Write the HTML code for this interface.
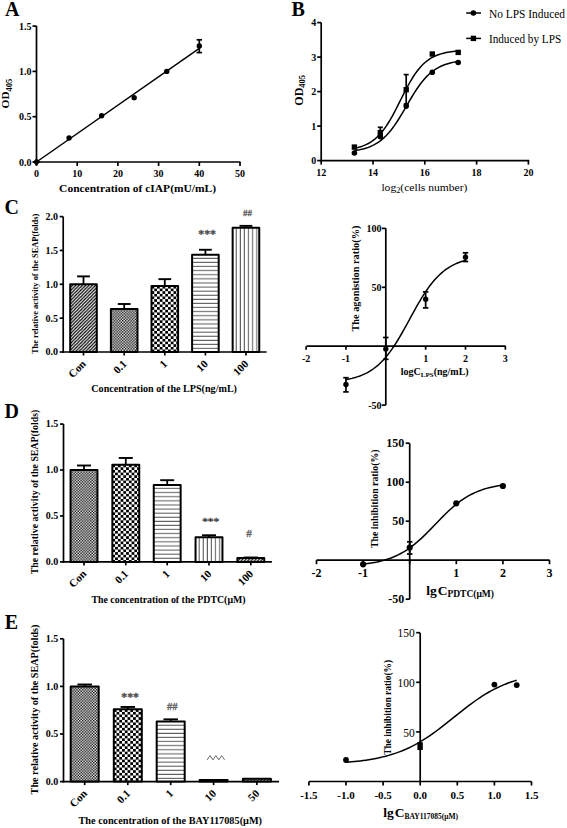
<!DOCTYPE html><html><head><meta charset="utf-8"><style>html,body{margin:0;padding:0;background:#fff;}svg{display:block;}text{font-family:"Liberation Serif",serif;}</style></head><body>
<svg width="567" height="828" viewBox="0 0 567 828">
<rect width="567" height="828" fill="#fff"/>
<text x="5" y="15.6" font-size="20" font-weight="bold" text-anchor="start" fill="#000">A</text>
<line x1="36.5" y1="26" x2="36.5" y2="162.85" stroke="#000" stroke-width="1.7"/>
<line x1="35.65" y1="162" x2="240.5" y2="162" stroke="#000" stroke-width="1.7"/>
<line x1="32.5" y1="162" x2="36.5" y2="162" stroke="#000" stroke-width="1.7"/>
<text x="31.5" y="165.6" font-size="10" font-weight="bold" text-anchor="end" fill="#000">0.0</text>
<line x1="32.5" y1="116.7" x2="36.5" y2="116.7" stroke="#000" stroke-width="1.7"/>
<text x="31.5" y="120.3" font-size="10" font-weight="bold" text-anchor="end" fill="#000">0.5</text>
<line x1="32.5" y1="71.4" x2="36.5" y2="71.4" stroke="#000" stroke-width="1.7"/>
<text x="31.5" y="75" font-size="10" font-weight="bold" text-anchor="end" fill="#000">1.0</text>
<line x1="32.5" y1="26.1" x2="36.5" y2="26.1" stroke="#000" stroke-width="1.7"/>
<text x="31.5" y="29.7" font-size="10" font-weight="bold" text-anchor="end" fill="#000">1.5</text>
<line x1="36.5" y1="162" x2="36.5" y2="166" stroke="#000" stroke-width="1.7"/>
<text x="36.5" y="176.9" font-size="10" font-weight="bold" text-anchor="middle" fill="#000">0</text>
<line x1="77.2" y1="162" x2="77.2" y2="166" stroke="#000" stroke-width="1.7"/>
<text x="77.2" y="176.9" font-size="10" font-weight="bold" text-anchor="middle" fill="#000">10</text>
<line x1="117.9" y1="162" x2="117.9" y2="166" stroke="#000" stroke-width="1.7"/>
<text x="117.9" y="176.9" font-size="10" font-weight="bold" text-anchor="middle" fill="#000">20</text>
<line x1="158.6" y1="162" x2="158.6" y2="166" stroke="#000" stroke-width="1.7"/>
<text x="158.6" y="176.9" font-size="10" font-weight="bold" text-anchor="middle" fill="#000">30</text>
<line x1="199.3" y1="162" x2="199.3" y2="166" stroke="#000" stroke-width="1.7"/>
<text x="199.3" y="176.9" font-size="10" font-weight="bold" text-anchor="middle" fill="#000">40</text>
<line x1="240" y1="162" x2="240" y2="166" stroke="#000" stroke-width="1.7"/>
<text x="240" y="176.9" font-size="10" font-weight="bold" text-anchor="middle" fill="#000">50</text>
<text x="137.6" y="191.8" font-size="11" font-weight="bold" text-anchor="middle" fill="#000" textLength="157" lengthAdjust="spacingAndGlyphs">Concentration of cIAP(mU/mL)</text>
<text transform="translate(9.4 108.4) rotate(-90)" font-size="11.3" font-weight="bold">OD<tspan font-size="8.5" dy="2.3">405</tspan></text>
<path d="M36.5 162 L199.3 48.3" fill="none" stroke="#000" stroke-width="1.5"/>
<path d="M32.9 162 L36.5 158.3 L40.1 162 L36.5 165.8 Z" fill="#000"/>
<circle cx="69.06" cy="137.99" r="2.7" fill="#000"/>
<circle cx="101.62" cy="115.79" r="2.7" fill="#000"/>
<circle cx="134.18" cy="97.67" r="2.7" fill="#000"/>
<circle cx="166.74" cy="71.4" r="2.7" fill="#000"/>
<circle cx="199.3" cy="46.03" r="2.7" fill="#000"/>
<line x1="199.3" y1="39.8" x2="199.3" y2="52.6" stroke="#000" stroke-width="1.7"/>
<line x1="196.55" y1="39.8" x2="202.05" y2="39.8" stroke="#000" stroke-width="1.7"/>
<line x1="196.55" y1="52.6" x2="202.05" y2="52.6" stroke="#000" stroke-width="1.7"/>
<text x="291.4" y="15.6" font-size="20" font-weight="bold" text-anchor="start" fill="#000">B</text>
<line x1="321.2" y1="22.6" x2="321.2" y2="161.45" stroke="#000" stroke-width="1.7"/>
<line x1="320.35" y1="160.6" x2="529.2" y2="160.6" stroke="#000" stroke-width="1.7"/>
<line x1="317.2" y1="160.6" x2="321.2" y2="160.6" stroke="#000" stroke-width="1.7"/>
<text x="316.3" y="164" font-size="10" font-weight="bold" text-anchor="end" fill="#000">0</text>
<line x1="317.2" y1="126.1" x2="321.2" y2="126.1" stroke="#000" stroke-width="1.7"/>
<text x="316.3" y="129.5" font-size="10" font-weight="bold" text-anchor="end" fill="#000">1</text>
<line x1="317.2" y1="91.6" x2="321.2" y2="91.6" stroke="#000" stroke-width="1.7"/>
<text x="316.3" y="95" font-size="10" font-weight="bold" text-anchor="end" fill="#000">2</text>
<line x1="317.2" y1="57.1" x2="321.2" y2="57.1" stroke="#000" stroke-width="1.7"/>
<text x="316.3" y="60.5" font-size="10" font-weight="bold" text-anchor="end" fill="#000">3</text>
<line x1="317.2" y1="22.6" x2="321.2" y2="22.6" stroke="#000" stroke-width="1.7"/>
<text x="316.3" y="26" font-size="10" font-weight="bold" text-anchor="end" fill="#000">4</text>
<line x1="321.2" y1="160.6" x2="321.2" y2="164.6" stroke="#000" stroke-width="1.7"/>
<text x="321.2" y="176.3" font-size="10" font-weight="bold" text-anchor="middle" fill="#000">12</text>
<line x1="373" y1="160.6" x2="373" y2="164.6" stroke="#000" stroke-width="1.7"/>
<text x="373" y="176.3" font-size="10" font-weight="bold" text-anchor="middle" fill="#000">14</text>
<line x1="424.8" y1="160.6" x2="424.8" y2="164.6" stroke="#000" stroke-width="1.7"/>
<text x="424.8" y="176.3" font-size="10" font-weight="bold" text-anchor="middle" fill="#000">16</text>
<line x1="476.6" y1="160.6" x2="476.6" y2="164.6" stroke="#000" stroke-width="1.7"/>
<text x="476.6" y="176.3" font-size="10" font-weight="bold" text-anchor="middle" fill="#000">18</text>
<line x1="528.4" y1="160.6" x2="528.4" y2="164.6" stroke="#000" stroke-width="1.7"/>
<text x="528.4" y="176.3" font-size="10" font-weight="bold" text-anchor="middle" fill="#000">20</text>
<text x="381.4" y="191.2" font-size="11.1" font-weight="normal" textLength="86" lengthAdjust="spacingAndGlyphs">log<tspan font-size="8" dy="2">2</tspan><tspan dy="-2">(cells number)</tspan></text>
<text transform="translate(302.6 105.7) rotate(-90)" font-size="12" font-weight="bold">OD<tspan font-size="8.5" dy="2.5">405</tspan></text>
<path d="M354.4 148.25 L356.13 147.88 L357.86 147.47 L359.59 147 L361.32 146.46 L363.05 145.85 L364.78 145.17 L366.51 144.39 L368.24 143.52 L369.97 142.53 L371.7 141.43 L373.43 140.19 L375.16 138.82 L376.89 137.29 L378.62 135.6 L380.35 133.74 L382.08 131.71 L383.81 129.49 L385.54 127.1 L387.27 124.52 L389 121.76 L390.73 118.84 L392.46 115.77 L394.19 112.57 L395.92 109.27 L397.65 105.88 L399.38 102.44 L401.11 98.98 L402.84 95.54 L404.57 92.14 L406.3 88.81 L408.03 85.59 L409.76 82.5 L411.49 79.55 L413.22 76.76 L414.95 74.15 L416.68 71.72 L418.41 69.47 L420.14 67.41 L421.87 65.52 L423.6 63.8 L425.33 62.24 L427.06 60.84 L428.79 59.58 L430.52 58.46 L432.25 57.45 L433.98 56.56 L435.71 55.77 L437.44 55.06 L439.17 54.44 L440.9 53.89 L442.63 53.41 L444.36 52.99 L446.09 52.61 L447.82 52.29 L449.55 52 L451.28 51.75 L453.01 51.53 L454.74 51.33 L456.47 51.16 L458.2 51.02" fill="none" stroke="#000" stroke-width="1.5"/>
<path d="M354.4 150.58 L356.13 150.32 L357.86 150.03 L359.59 149.71 L361.32 149.34 L363.05 148.92 L364.78 148.45 L366.51 147.93 L368.24 147.34 L369.97 146.68 L371.7 145.94 L373.43 145.11 L375.16 144.19 L376.89 143.17 L378.62 142.03 L380.35 140.78 L382.08 139.41 L383.81 137.9 L385.54 136.25 L387.27 134.46 L389 132.52 L390.73 130.44 L392.46 128.21 L394.19 125.84 L395.92 123.34 L397.65 120.72 L399.38 117.99 L401.11 115.16 L402.84 112.27 L404.57 109.32 L406.3 106.34 L408.03 103.37 L409.76 100.41 L411.49 97.5 L413.22 94.66 L414.95 91.9 L416.68 89.25 L418.41 86.72 L420.14 84.32 L421.87 82.06 L423.6 79.94 L425.33 77.97 L427.06 76.15 L428.79 74.47 L430.52 72.93 L432.25 71.52 L433.98 70.24 L435.71 69.08 L437.44 68.04 L439.17 67.09 L440.9 66.25 L442.63 65.49 L444.36 64.81 L446.09 64.2 L447.82 63.66 L449.55 63.18 L451.28 62.75 L453.01 62.37 L454.74 62.04 L456.47 61.74 L458.2 61.48" fill="none" stroke="#000" stroke-width="1.5"/>
<line x1="380.3" y1="127.3" x2="380.3" y2="137.5" stroke="#000" stroke-width="1.7"/>
<line x1="377.8" y1="127.3" x2="382.8" y2="127.3" stroke="#000" stroke-width="1.7"/>
<line x1="377.8" y1="137.5" x2="382.8" y2="137.5" stroke="#000" stroke-width="1.7"/>
<line x1="406.2" y1="74.6" x2="406.2" y2="104" stroke="#000" stroke-width="1.7"/>
<line x1="403.7" y1="74.6" x2="408.7" y2="74.6" stroke="#000" stroke-width="1.7"/>
<line x1="403.7" y1="104" x2="408.7" y2="104" stroke="#000" stroke-width="1.7"/>
<rect x="351.7" y="144.4" width="5.4" height="5.4" fill="#000"/>
<rect x="377.6" y="129.9" width="5.4" height="5.4" fill="#000"/>
<rect x="403.5" y="87" width="5.4" height="5.4" fill="#000"/>
<rect x="429.6" y="51.3" width="5.4" height="5.4" fill="#000"/>
<rect x="455.5" y="49.7" width="5.4" height="5.4" fill="#000"/>
<circle cx="354.4" cy="153" r="2.8" fill="#000"/>
<circle cx="380.3" cy="136.6" r="2.8" fill="#000"/>
<circle cx="406.2" cy="106.1" r="2.8" fill="#000"/>
<circle cx="432.3" cy="72.3" r="2.8" fill="#000"/>
<circle cx="458.2" cy="62.5" r="2.8" fill="#000"/>
<line x1="466.2" y1="13" x2="481" y2="13" stroke="#000" stroke-width="1.5"/>
<circle cx="473.4" cy="13" r="2.8" fill="#000"/>
<text x="488.9" y="17.8" font-size="11.5" font-weight="normal" text-anchor="start" fill="#000" textLength="76.2" lengthAdjust="spacingAndGlyphs">No LPS Induced</text>
<line x1="466.2" y1="38.4" x2="481" y2="38.4" stroke="#000" stroke-width="1.5"/>
<rect x="470.7" y="35.7" width="5.4" height="5.4" fill="#000"/>
<text x="488.9" y="42.8" font-size="11.5" font-weight="normal" text-anchor="start" fill="#000" textLength="72.3" lengthAdjust="spacingAndGlyphs">Induced by LPS</text>
<text x="4.6" y="213.8" font-size="20" font-weight="bold" text-anchor="start" fill="#000">C</text>
<line x1="63.2" y1="216.6" x2="63.2" y2="352.85" stroke="#000" stroke-width="1.7"/>
<line x1="62.35" y1="352" x2="266.6" y2="352" stroke="#000" stroke-width="1.7"/>
<line x1="59.7" y1="352" x2="63.2" y2="352" stroke="#000" stroke-width="1.7"/>
<text x="57.9" y="355.4" font-size="10" font-weight="bold" text-anchor="end" fill="#000">0.0</text>
<line x1="59.7" y1="318.15" x2="63.2" y2="318.15" stroke="#000" stroke-width="1.7"/>
<text x="57.9" y="321.55" font-size="10" font-weight="bold" text-anchor="end" fill="#000">0.5</text>
<line x1="59.7" y1="284.3" x2="63.2" y2="284.3" stroke="#000" stroke-width="1.7"/>
<text x="57.9" y="287.7" font-size="10" font-weight="bold" text-anchor="end" fill="#000">1.0</text>
<line x1="59.7" y1="250.45" x2="63.2" y2="250.45" stroke="#000" stroke-width="1.7"/>
<text x="57.9" y="253.85" font-size="10" font-weight="bold" text-anchor="end" fill="#000">1.5</text>
<line x1="59.7" y1="216.6" x2="63.2" y2="216.6" stroke="#000" stroke-width="1.7"/>
<text x="57.9" y="220" font-size="10" font-weight="bold" text-anchor="end" fill="#000">2.0</text>
<line x1="83.5" y1="352" x2="83.5" y2="355.5" stroke="#000" stroke-width="1.7"/>
<line x1="124.2" y1="352" x2="124.2" y2="355.5" stroke="#000" stroke-width="1.7"/>
<line x1="164.8" y1="352" x2="164.8" y2="355.5" stroke="#000" stroke-width="1.7"/>
<line x1="205.4" y1="352" x2="205.4" y2="355.5" stroke="#000" stroke-width="1.7"/>
<line x1="245.95" y1="352" x2="245.95" y2="355.5" stroke="#000" stroke-width="1.7"/>
<line x1="83.5" y1="284.3" x2="83.5" y2="276.38" stroke="#000" stroke-width="1.8"/>
<line x1="77.1" y1="276.38" x2="89.9" y2="276.38" stroke="#000" stroke-width="1.9"/>
<pattern id="p1" width="3.3" height="3.3" patternUnits="userSpaceOnUse" patternTransform="translate(70.2 284.3)"><rect width="3.3" height="3.3" fill="#fff"/><path d="M-1.65 1.65 L1.65 -1.65 M0 3.3 L3.3 0 M1.65 4.949999999999999 L4.949999999999999 1.65" stroke="#000" stroke-width="1.25"/></pattern>
<rect x="70.2" y="284.3" width="26.6" height="67.7" fill="url(#p1)" stroke="#000" stroke-width="2" stroke-linejoin="round"/>
<line x1="124.2" y1="308.88" x2="124.2" y2="304" stroke="#000" stroke-width="1.8"/>
<line x1="117.8" y1="304" x2="130.6" y2="304" stroke="#000" stroke-width="1.9"/>
<pattern id="p2" width="2.8" height="2.8" patternUnits="userSpaceOnUse" patternTransform="translate(110.9 308.88)"><rect width="2.8" height="2.8" fill="#fff"/><rect width="1.4" height="1.4" fill="#000"/><rect x="1.4" y="1.4" width="1.4" height="1.4" fill="#000"/></pattern>
<rect x="110.9" y="308.88" width="26.6" height="43.12" fill="url(#p2)" stroke="#000" stroke-width="2" stroke-linejoin="round"/>
<line x1="164.8" y1="285.92" x2="164.8" y2="279.15" stroke="#000" stroke-width="1.8"/>
<line x1="158.4" y1="279.15" x2="171.2" y2="279.15" stroke="#000" stroke-width="1.9"/>
<pattern id="p3" width="5.5" height="5.3" patternUnits="userSpaceOnUse" patternTransform="translate(151.5 285.92)"><rect width="5.5" height="5.3" fill="#fff"/><rect width="2.75" height="2.65" fill="#000"/><rect x="2.75" y="2.65" width="2.75" height="2.65" fill="#000"/></pattern>
<rect x="151.5" y="285.92" width="26.6" height="66.08" fill="url(#p3)" stroke="#000" stroke-width="2" stroke-linejoin="round"/>
<line x1="205.4" y1="254.78" x2="205.4" y2="249.77" stroke="#000" stroke-width="1.8"/>
<line x1="199" y1="249.77" x2="211.8" y2="249.77" stroke="#000" stroke-width="1.9"/>
<pattern id="p4" width="4" height="4.1" patternUnits="userSpaceOnUse" patternTransform="translate(192.1 254.78)"><rect width="4" height="4.1" fill="#fff"/><rect y="3.05" width="4" height="1.1" fill="#5e5e5e"/></pattern>
<rect x="192.1" y="254.78" width="26.6" height="97.22" fill="url(#p4)" stroke="#000" stroke-width="2" stroke-linejoin="round"/>
<line x1="245.95" y1="227.77" x2="245.95" y2="225.87" stroke="#000" stroke-width="1.8"/>
<line x1="239.55" y1="225.87" x2="252.35" y2="225.87" stroke="#000" stroke-width="1.9"/>
<pattern id="p5" width="4.12" height="4" patternUnits="userSpaceOnUse" patternTransform="translate(232.65 227.77)"><rect width="4.12" height="4" fill="#fff"/><rect x="3.05" width="1.1" height="4" fill="#5e5e5e"/></pattern>
<rect x="232.65" y="227.77" width="26.6" height="124.23" fill="url(#p5)" stroke="#000" stroke-width="2" stroke-linejoin="round"/>
<text transform="translate(86.7 364.6) rotate(-45)" font-size="11" font-weight="bold" text-anchor="end">Con</text>
<text transform="translate(127.4 364.6) rotate(-45)" font-size="11" font-weight="bold" text-anchor="end">0.1</text>
<text transform="translate(168 364.6) rotate(-45)" font-size="11" font-weight="bold" text-anchor="end">1</text>
<text transform="translate(208.6 364.6) rotate(-45)" font-size="11" font-weight="bold" text-anchor="end">10</text>
<text transform="translate(249.15 364.6) rotate(-45)" font-size="11" font-weight="bold" text-anchor="end">100</text>
<text x="91.3" y="392" font-size="10" font-weight="bold" text-anchor="start" fill="#000" textLength="145.7" lengthAdjust="spacingAndGlyphs">Concentration of the LPS(ng/mL)</text>
<text transform="translate(37.6 283.9) rotate(-90)" x="0" y="0" font-size="8.4" font-weight="bold" text-anchor="middle" fill="#000" textLength="140.2" lengthAdjust="spacingAndGlyphs">The relative activity of the SEAP(folds)</text>
<text x="207.1" y="237.82" font-size="11.7" font-weight="normal" text-anchor="middle" fill="#505050" stroke="#505050" stroke-width="0.45">***</text>
<text x="247.5" y="215.65" font-size="9" font-weight="normal" text-anchor="middle" fill="#5a5a5a" stroke="#5a5a5a" stroke-width="0.3">##</text>
<line x1="385.8" y1="228.3" x2="385.8" y2="405.2" stroke="#000" stroke-width="1.7"/>
<line x1="306.5" y1="346.2" x2="505.7" y2="346.2" stroke="#000" stroke-width="1.7"/>
<line x1="381.8" y1="228.4" x2="385.8" y2="228.4" stroke="#000" stroke-width="1.7"/>
<text x="381.5" y="231.8" font-size="10" font-weight="bold" text-anchor="end" fill="#000">100</text>
<line x1="381.8" y1="287.3" x2="385.8" y2="287.3" stroke="#000" stroke-width="1.7"/>
<text x="381.5" y="290.7" font-size="10" font-weight="bold" text-anchor="end" fill="#000">50</text>
<line x1="381.8" y1="405.1" x2="385.8" y2="405.1" stroke="#000" stroke-width="1.7"/>
<text x="381.5" y="408.5" font-size="10" font-weight="bold" text-anchor="end" fill="#000">-50</text>
<line x1="306.1" y1="346.2" x2="306.1" y2="349.7" stroke="#000" stroke-width="1.7"/>
<text x="306.1" y="361.6" font-size="10" font-weight="bold" text-anchor="middle" fill="#000">-2</text>
<line x1="345.95" y1="346.2" x2="345.95" y2="349.7" stroke="#000" stroke-width="1.7"/>
<text x="345.95" y="361.6" font-size="10" font-weight="bold" text-anchor="middle" fill="#000">-1</text>
<line x1="385.8" y1="346.2" x2="385.8" y2="349.7" stroke="#000" stroke-width="1.7"/>
<line x1="425.65" y1="346.2" x2="425.65" y2="349.7" stroke="#000" stroke-width="1.7"/>
<text x="425.65" y="361.6" font-size="10" font-weight="bold" text-anchor="middle" fill="#000">1</text>
<line x1="465.5" y1="346.2" x2="465.5" y2="349.7" stroke="#000" stroke-width="1.7"/>
<text x="465.5" y="361.6" font-size="10" font-weight="bold" text-anchor="middle" fill="#000">2</text>
<line x1="505.35" y1="346.2" x2="505.35" y2="349.7" stroke="#000" stroke-width="1.7"/>
<text x="505.35" y="361.6" font-size="10" font-weight="bold" text-anchor="middle" fill="#000">3</text>
<text x="400.8" y="375" font-size="10" font-weight="bold">logC<tspan font-size="7" dy="2">LPS</tspan><tspan dy="-2">(ng/mL)</tspan></text>
<text transform="translate(358.8 278.6) rotate(-90)" x="0" y="0" font-size="9.5" font-weight="bold" text-anchor="middle" fill="#000" textLength="106" lengthAdjust="spacingAndGlyphs">The agonistion ratio(%)</text>
<path d="M345.95 379.6 L347.94 379.23 L349.94 378.82 L351.93 378.36 L353.92 377.85 L355.91 377.28 L357.9 376.65 L359.9 375.94 L361.89 375.17 L363.88 374.31 L365.88 373.36 L367.87 372.31 L369.86 371.15 L371.85 369.88 L373.84 368.49 L375.84 366.97 L377.83 365.31 L379.82 363.51 L381.81 361.56 L383.81 359.45 L385.8 357.18 L387.79 354.75 L389.78 352.15 L391.78 349.4 L393.77 346.49 L395.76 343.44 L397.75 340.24 L399.75 336.93 L401.74 333.5 L403.73 329.98 L405.73 326.4 L407.72 322.76 L409.71 319.11 L411.7 315.45 L413.69 311.81 L415.69 308.23 L417.68 304.71 L419.67 301.29 L421.66 297.97 L423.66 294.78 L425.65 291.72 L427.64 288.81 L429.63 286.06 L431.63 283.47 L433.62 281.04 L435.61 278.77 L437.61 276.66 L439.6 274.7 L441.59 272.9 L443.58 271.24 L445.57 269.72 L447.57 268.33 L449.56 267.06 L451.55 265.9 L453.55 264.86 L455.54 263.91 L457.53 263.04 L459.52 262.27 L461.51 261.57 L463.51 260.93 L465.5 260.36" fill="none" stroke="#000" stroke-width="1.5"/>
<line x1="345.95" y1="377.7" x2="345.95" y2="391.9" stroke="#000" stroke-width="1.7"/>
<line x1="343.2" y1="377.7" x2="348.7" y2="377.7" stroke="#000" stroke-width="1.7"/>
<line x1="343.2" y1="391.9" x2="348.7" y2="391.9" stroke="#000" stroke-width="1.7"/>
<circle cx="345.95" cy="384.5" r="2.7" fill="#000"/>
<line x1="385.8" y1="337.5" x2="385.8" y2="359.3" stroke="#000" stroke-width="1.7"/>
<line x1="383.05" y1="337.5" x2="388.55" y2="337.5" stroke="#000" stroke-width="1.7"/>
<line x1="383.05" y1="359.3" x2="388.55" y2="359.3" stroke="#000" stroke-width="1.7"/>
<circle cx="385.8" cy="349" r="2.7" fill="#000"/>
<line x1="425.65" y1="291.9" x2="425.65" y2="307.9" stroke="#000" stroke-width="1.7"/>
<line x1="422.9" y1="291.9" x2="428.4" y2="291.9" stroke="#000" stroke-width="1.7"/>
<line x1="422.9" y1="307.9" x2="428.4" y2="307.9" stroke="#000" stroke-width="1.7"/>
<circle cx="425.65" cy="299.3" r="2.7" fill="#000"/>
<line x1="465.5" y1="252.8" x2="465.5" y2="261.5" stroke="#000" stroke-width="1.7"/>
<line x1="462.75" y1="252.8" x2="468.25" y2="252.8" stroke="#000" stroke-width="1.7"/>
<line x1="462.75" y1="261.5" x2="468.25" y2="261.5" stroke="#000" stroke-width="1.7"/>
<circle cx="465.5" cy="257.3" r="2.7" fill="#000"/>
<text x="4.6" y="417.6" font-size="20" font-weight="bold" text-anchor="start" fill="#000">D</text>
<line x1="63.5" y1="424" x2="63.5" y2="562.75" stroke="#000" stroke-width="1.7"/>
<line x1="62.65" y1="561.9" x2="271.9" y2="561.9" stroke="#000" stroke-width="1.7"/>
<line x1="60" y1="561.9" x2="63.5" y2="561.9" stroke="#000" stroke-width="1.7"/>
<text x="58.2" y="565.3" font-size="10" font-weight="bold" text-anchor="end" fill="#000">0.0</text>
<line x1="60" y1="515.95" x2="63.5" y2="515.95" stroke="#000" stroke-width="1.7"/>
<text x="58.2" y="519.35" font-size="10" font-weight="bold" text-anchor="end" fill="#000">0.5</text>
<line x1="60" y1="470" x2="63.5" y2="470" stroke="#000" stroke-width="1.7"/>
<text x="58.2" y="473.4" font-size="10" font-weight="bold" text-anchor="end" fill="#000">1.0</text>
<line x1="60" y1="424.05" x2="63.5" y2="424.05" stroke="#000" stroke-width="1.7"/>
<text x="58.2" y="427.45" font-size="10" font-weight="bold" text-anchor="end" fill="#000">1.5</text>
<line x1="84" y1="561.9" x2="84" y2="565.4" stroke="#000" stroke-width="1.7"/>
<line x1="125.8" y1="561.9" x2="125.8" y2="565.4" stroke="#000" stroke-width="1.7"/>
<line x1="167.2" y1="561.9" x2="167.2" y2="565.4" stroke="#000" stroke-width="1.7"/>
<line x1="209" y1="561.9" x2="209" y2="565.4" stroke="#000" stroke-width="1.7"/>
<line x1="250.8" y1="561.9" x2="250.8" y2="565.4" stroke="#000" stroke-width="1.7"/>
<line x1="84" y1="470" x2="84" y2="465.5" stroke="#000" stroke-width="1.8"/>
<line x1="77" y1="465.5" x2="91" y2="465.5" stroke="#000" stroke-width="1.9"/>
<pattern id="p6" width="2.8" height="2.8" patternUnits="userSpaceOnUse" patternTransform="translate(70.55 470)"><rect width="2.8" height="2.8" fill="#fff"/><rect width="1.4" height="1.4" fill="#000"/><rect x="1.4" y="1.4" width="1.4" height="1.4" fill="#000"/></pattern>
<rect x="70.55" y="470" width="26.9" height="91.9" fill="url(#p6)" stroke="#000" stroke-width="2" stroke-linejoin="round"/>
<line x1="125.8" y1="464.67" x2="125.8" y2="457.96" stroke="#000" stroke-width="1.8"/>
<line x1="118.8" y1="457.96" x2="132.8" y2="457.96" stroke="#000" stroke-width="1.9"/>
<pattern id="p7" width="5.5" height="5.3" patternUnits="userSpaceOnUse" patternTransform="translate(112.35 464.67)"><rect width="5.5" height="5.3" fill="#fff"/><rect width="2.75" height="2.65" fill="#000"/><rect x="2.75" y="2.65" width="2.75" height="2.65" fill="#000"/></pattern>
<rect x="112.35" y="464.67" width="26.9" height="97.23" fill="url(#p7)" stroke="#000" stroke-width="2" stroke-linejoin="round"/>
<line x1="167.2" y1="484.98" x2="167.2" y2="480.2" stroke="#000" stroke-width="1.8"/>
<line x1="160.2" y1="480.2" x2="174.2" y2="480.2" stroke="#000" stroke-width="1.9"/>
<pattern id="p8" width="4" height="4.1" patternUnits="userSpaceOnUse" patternTransform="translate(153.75 484.98)"><rect width="4" height="4.1" fill="#fff"/><rect y="3.05" width="4" height="1.1" fill="#5e5e5e"/></pattern>
<rect x="153.75" y="484.98" width="26.9" height="76.92" fill="url(#p8)" stroke="#000" stroke-width="2" stroke-linejoin="round"/>
<line x1="209" y1="537.27" x2="209" y2="535.25" stroke="#000" stroke-width="1.8"/>
<line x1="202" y1="535.25" x2="216" y2="535.25" stroke="#000" stroke-width="1.9"/>
<pattern id="p9" width="4.12" height="4" patternUnits="userSpaceOnUse" patternTransform="translate(195.55 537.27)"><rect width="4.12" height="4" fill="#fff"/><rect x="3.05" width="1.1" height="4" fill="#5e5e5e"/></pattern>
<rect x="195.55" y="537.27" width="26.9" height="24.63" fill="url(#p9)" stroke="#000" stroke-width="2" stroke-linejoin="round"/>
<line x1="250.8" y1="558.04" x2="250.8" y2="557.49" stroke="#000" stroke-width="1.8"/>
<line x1="243.8" y1="557.49" x2="257.8" y2="557.49" stroke="#000" stroke-width="1.9"/>
<pattern id="p10" width="3.3" height="3.3" patternUnits="userSpaceOnUse" patternTransform="translate(237.35 558.04)"><rect width="3.3" height="3.3" fill="#fff"/><path d="M-1.65 1.65 L1.65 -1.65 M0 3.3 L3.3 0 M1.65 4.949999999999999 L4.949999999999999 1.65" stroke="#000" stroke-width="1.25"/></pattern>
<rect x="237.35" y="558.04" width="26.9" height="3.86" fill="url(#p10)" stroke="#000" stroke-width="2" stroke-linejoin="round"/>
<text transform="translate(87.2 574.5) rotate(-45)" font-size="11" font-weight="bold" text-anchor="end">Con</text>
<text transform="translate(129 574.5) rotate(-45)" font-size="11" font-weight="bold" text-anchor="end">0.1</text>
<text transform="translate(170.4 574.5) rotate(-45)" font-size="11" font-weight="bold" text-anchor="end">1</text>
<text transform="translate(212.2 574.5) rotate(-45)" font-size="11" font-weight="bold" text-anchor="end">10</text>
<text transform="translate(254 574.5) rotate(-45)" font-size="11" font-weight="bold" text-anchor="end">100</text>
<text x="91.4" y="602.8" font-size="10" font-weight="bold" text-anchor="start" fill="#000" textLength="154.2" lengthAdjust="spacingAndGlyphs">The concentration of the PDTC(μM)</text>
<text transform="translate(37.8 492) rotate(-90)" x="0" y="0" font-size="9.85" font-weight="bold" text-anchor="middle" fill="#000" textLength="164.7" lengthAdjust="spacingAndGlyphs">The relative activity of the SEAP(folds)</text>
<text x="210.7" y="525.08" font-size="11.4" font-weight="normal" text-anchor="middle" fill="#505050" stroke="#505050" stroke-width="0.45">***</text>
<text x="249" y="537.17" font-size="11.2" font-weight="normal" text-anchor="middle" fill="#5a5a5a" stroke="#5a5a5a" stroke-width="0.3">#</text>
<line x1="409.7" y1="443.3" x2="409.7" y2="599.3" stroke="#000" stroke-width="1.7"/>
<line x1="316.5" y1="560.2" x2="549.6" y2="560.2" stroke="#000" stroke-width="1.7"/>
<line x1="405.7" y1="443.2" x2="409.7" y2="443.2" stroke="#000" stroke-width="1.7"/>
<text x="404.3" y="447.2" font-size="12" font-weight="bold" text-anchor="end" fill="#000">150</text>
<line x1="405.7" y1="482.2" x2="409.7" y2="482.2" stroke="#000" stroke-width="1.7"/>
<text x="404.3" y="486.2" font-size="12" font-weight="bold" text-anchor="end" fill="#000">100</text>
<line x1="405.7" y1="521.2" x2="409.7" y2="521.2" stroke="#000" stroke-width="1.7"/>
<text x="404.3" y="525.2" font-size="12" font-weight="bold" text-anchor="end" fill="#000">50</text>
<line x1="405.7" y1="599.2" x2="409.7" y2="599.2" stroke="#000" stroke-width="1.7"/>
<text x="404.3" y="603.2" font-size="12" font-weight="bold" text-anchor="end" fill="#000">-50</text>
<line x1="316.5" y1="560.2" x2="316.5" y2="564.2" stroke="#000" stroke-width="1.7"/>
<text x="316.5" y="577.4" font-size="12" font-weight="bold" text-anchor="middle" fill="#000">-2</text>
<line x1="363.1" y1="560.2" x2="363.1" y2="564.2" stroke="#000" stroke-width="1.7"/>
<text x="363.1" y="577.4" font-size="12" font-weight="bold" text-anchor="middle" fill="#000">-1</text>
<line x1="409.7" y1="560.2" x2="409.7" y2="564.2" stroke="#000" stroke-width="1.7"/>
<line x1="456.3" y1="560.2" x2="456.3" y2="564.2" stroke="#000" stroke-width="1.7"/>
<text x="456.3" y="577.4" font-size="12" font-weight="bold" text-anchor="middle" fill="#000">1</text>
<line x1="502.9" y1="560.2" x2="502.9" y2="564.2" stroke="#000" stroke-width="1.7"/>
<text x="502.9" y="577.4" font-size="12" font-weight="bold" text-anchor="middle" fill="#000">2</text>
<line x1="549.5" y1="560.2" x2="549.5" y2="564.2" stroke="#000" stroke-width="1.7"/>
<text x="549.5" y="577.4" font-size="12" font-weight="bold" text-anchor="middle" fill="#000">3</text>
<text x="426.2" y="595" font-size="13.5" font-weight="bold">lg<tspan dx="1">C</tspan><tspan font-size="9.5" dy="2">PDTC(μM)</tspan></text>
<text transform="translate(378 498.7) rotate(-90)" x="0" y="0" font-size="10" font-weight="bold" text-anchor="middle" fill="#000" textLength="98.5" lengthAdjust="spacingAndGlyphs">The inhibition ratio(%)</text>
<path d="M363.1 564.13 L365.43 563.86 L367.76 563.55 L370.09 563.21 L372.42 562.84 L374.75 562.42 L377.08 561.96 L379.41 561.44 L381.74 560.87 L384.07 560.24 L386.4 559.55 L388.73 558.78 L391.06 557.94 L393.39 557.02 L395.72 556.01 L398.05 554.92 L400.38 553.72 L402.71 552.43 L405.04 551.03 L407.37 549.53 L409.7 547.92 L412.03 546.2 L414.36 544.38 L416.69 542.45 L419.02 540.43 L421.35 538.32 L423.68 536.12 L426.01 533.85 L428.34 531.52 L430.67 529.15 L433 526.74 L435.33 524.32 L437.66 521.9 L439.99 519.49 L442.32 517.12 L444.65 514.79 L446.98 512.52 L449.31 510.32 L451.64 508.21 L453.97 506.19 L456.3 504.26 L458.63 502.44 L460.96 500.72 L463.29 499.11 L465.62 497.61 L467.95 496.21 L470.28 494.92 L472.61 493.72 L474.94 492.63 L477.27 491.62 L479.6 490.7 L481.93 489.86 L484.26 489.09 L486.59 488.4 L488.92 487.77 L491.25 487.2 L493.58 486.68 L495.91 486.22 L498.24 485.8 L500.57 485.43 L502.9 485.09" fill="none" stroke="#000" stroke-width="1.5"/>
<line x1="409.7" y1="541.8" x2="409.7" y2="554" stroke="#000" stroke-width="1.7"/>
<line x1="406.95" y1="541.8" x2="412.45" y2="541.8" stroke="#000" stroke-width="1.7"/>
<line x1="406.95" y1="554" x2="412.45" y2="554" stroke="#000" stroke-width="1.7"/>
<circle cx="363.1" cy="564.3" r="3.1" fill="#000"/>
<circle cx="409.7" cy="547.5" r="3.1" fill="#000"/>
<circle cx="456.3" cy="503.3" r="3.1" fill="#000"/>
<circle cx="502.9" cy="486" r="3.1" fill="#000"/>
<text x="4.8" y="628.8" font-size="20" font-weight="bold" text-anchor="start" fill="#000">E</text>
<line x1="63.5" y1="638.8" x2="63.5" y2="782.45" stroke="#000" stroke-width="1.7"/>
<line x1="62.65" y1="781.6" x2="279" y2="781.6" stroke="#000" stroke-width="1.7"/>
<line x1="60" y1="781.6" x2="63.5" y2="781.6" stroke="#000" stroke-width="1.7"/>
<text x="58.2" y="785" font-size="10" font-weight="bold" text-anchor="end" fill="#000">0.0</text>
<line x1="60" y1="734" x2="63.5" y2="734" stroke="#000" stroke-width="1.7"/>
<text x="58.2" y="737.4" font-size="10" font-weight="bold" text-anchor="end" fill="#000">0.5</text>
<line x1="60" y1="686.4" x2="63.5" y2="686.4" stroke="#000" stroke-width="1.7"/>
<text x="58.2" y="689.8" font-size="10" font-weight="bold" text-anchor="end" fill="#000">1.0</text>
<line x1="60" y1="638.8" x2="63.5" y2="638.8" stroke="#000" stroke-width="1.7"/>
<text x="58.2" y="642.2" font-size="10" font-weight="bold" text-anchor="end" fill="#000">1.5</text>
<line x1="84.7" y1="781.6" x2="84.7" y2="785.1" stroke="#000" stroke-width="1.7"/>
<line x1="127.8" y1="781.6" x2="127.8" y2="785.1" stroke="#000" stroke-width="1.7"/>
<line x1="170.7" y1="781.6" x2="170.7" y2="785.1" stroke="#000" stroke-width="1.7"/>
<line x1="213.6" y1="781.6" x2="213.6" y2="785.1" stroke="#000" stroke-width="1.7"/>
<line x1="256.9" y1="781.6" x2="256.9" y2="785.1" stroke="#000" stroke-width="1.7"/>
<line x1="84.7" y1="686.4" x2="84.7" y2="684.5" stroke="#000" stroke-width="1.8"/>
<line x1="77.45" y1="684.5" x2="91.95" y2="684.5" stroke="#000" stroke-width="1.9"/>
<pattern id="p11" width="2.8" height="2.8" patternUnits="userSpaceOnUse" patternTransform="translate(70.7 686.4)"><rect width="2.8" height="2.8" fill="#fff"/><rect width="1.4" height="1.4" fill="#000"/><rect x="1.4" y="1.4" width="1.4" height="1.4" fill="#000"/></pattern>
<rect x="70.7" y="686.4" width="28" height="95.2" fill="url(#p11)" stroke="#000" stroke-width="2" stroke-linejoin="round"/>
<line x1="127.8" y1="709.25" x2="127.8" y2="706.96" stroke="#000" stroke-width="1.8"/>
<line x1="120.55" y1="706.96" x2="135.05" y2="706.96" stroke="#000" stroke-width="1.9"/>
<pattern id="p12" width="5.5" height="5.3" patternUnits="userSpaceOnUse" patternTransform="translate(113.8 709.25)"><rect width="5.5" height="5.3" fill="#fff"/><rect width="2.75" height="2.65" fill="#000"/><rect x="2.75" y="2.65" width="2.75" height="2.65" fill="#000"/></pattern>
<rect x="113.8" y="709.25" width="28" height="72.35" fill="url(#p12)" stroke="#000" stroke-width="2" stroke-linejoin="round"/>
<line x1="170.7" y1="721.62" x2="170.7" y2="719.34" stroke="#000" stroke-width="1.8"/>
<line x1="163.45" y1="719.34" x2="177.95" y2="719.34" stroke="#000" stroke-width="1.9"/>
<pattern id="p13" width="4" height="4.1" patternUnits="userSpaceOnUse" patternTransform="translate(156.7 721.62)"><rect width="4" height="4.1" fill="#fff"/><rect y="3.05" width="4" height="1.1" fill="#5e5e5e"/></pattern>
<rect x="156.7" y="721.62" width="28" height="59.98" fill="url(#p13)" stroke="#000" stroke-width="2" stroke-linejoin="round"/>
<pattern id="p14" width="4.12" height="4" patternUnits="userSpaceOnUse" patternTransform="translate(199.6 780.08)"><rect width="4.12" height="4" fill="#fff"/><rect x="3.05" width="1.1" height="4" fill="#5e5e5e"/></pattern>
<rect x="199.6" y="780.08" width="28" height="1.52" fill="url(#p14)" stroke="#000" stroke-width="2" stroke-linejoin="round"/>
<pattern id="p15" width="3.3" height="3.3" patternUnits="userSpaceOnUse" patternTransform="translate(242.9 778.74)"><rect width="3.3" height="3.3" fill="#fff"/><path d="M-1.65 1.65 L1.65 -1.65 M0 3.3 L3.3 0 M1.65 4.949999999999999 L4.949999999999999 1.65" stroke="#000" stroke-width="1.25"/></pattern>
<rect x="242.9" y="778.74" width="28" height="2.86" fill="url(#p15)" stroke="#000" stroke-width="2" stroke-linejoin="round"/>
<text transform="translate(87.9 794.2) rotate(-45)" font-size="11" font-weight="bold" text-anchor="end">Con</text>
<text transform="translate(131 794.2) rotate(-45)" font-size="11" font-weight="bold" text-anchor="end">0.1</text>
<text transform="translate(173.9 794.2) rotate(-45)" font-size="11" font-weight="bold" text-anchor="end">1</text>
<text transform="translate(216.8 794.2) rotate(-45)" font-size="11" font-weight="bold" text-anchor="end">10</text>
<text transform="translate(260.1 794.2) rotate(-45)" font-size="11" font-weight="bold" text-anchor="end">50</text>
<text x="78.5" y="823.8" font-size="10" font-weight="bold" text-anchor="start" fill="#000" textLength="183.5" lengthAdjust="spacingAndGlyphs">The concentration of the BAY117085(μM)</text>
<text transform="translate(38 709.5) rotate(-90)" x="0" y="0" font-size="10.15" font-weight="bold" text-anchor="middle" fill="#000" textLength="169.8" lengthAdjust="spacingAndGlyphs">The relative activity of the SEAP(folds)</text>
<text x="130.1" y="701.12" font-size="11.7" font-weight="normal" text-anchor="middle" fill="#505050" stroke="#505050" stroke-width="0.45">***</text>
<text x="172.3" y="709.77" font-size="10.6" font-weight="normal" text-anchor="middle" fill="#5a5a5a" stroke="#5a5a5a" stroke-width="0.3">##</text>
<path d="M207.1 759.9 L210.02 755.6 L212.93 759.9 L215.85 755.6 L218.77 759.9 L221.68 755.6 L224.6 759.9" fill="none" stroke="#666" stroke-width="1.0"/>
<line x1="420.2" y1="632.9" x2="420.2" y2="781.5" stroke="#000" stroke-width="1.7"/>
<line x1="309" y1="781.5" x2="531.5" y2="781.5" stroke="#000" stroke-width="1.7"/>
<line x1="416.2" y1="632.7" x2="420.2" y2="632.7" stroke="#000" stroke-width="1.7"/>
<text x="414.8" y="637.3" font-size="11.5" font-weight="normal" text-anchor="end" fill="#000">150</text>
<line x1="416.2" y1="682.3" x2="420.2" y2="682.3" stroke="#000" stroke-width="1.7"/>
<text x="414.8" y="686.9" font-size="11.5" font-weight="normal" text-anchor="end" fill="#000">100</text>
<line x1="416.2" y1="731.9" x2="420.2" y2="731.9" stroke="#000" stroke-width="1.7"/>
<text x="414.8" y="736.5" font-size="11.5" font-weight="normal" text-anchor="end" fill="#000">50</text>
<line x1="308.9" y1="781.5" x2="308.9" y2="785.5" stroke="#000" stroke-width="1.7"/>
<text x="308.9" y="799" font-size="11" font-weight="bold" text-anchor="middle" fill="#000">-1.5</text>
<line x1="346" y1="781.5" x2="346" y2="785.5" stroke="#000" stroke-width="1.7"/>
<text x="346" y="799" font-size="11" font-weight="bold" text-anchor="middle" fill="#000">-1.0</text>
<line x1="383.1" y1="781.5" x2="383.1" y2="785.5" stroke="#000" stroke-width="1.7"/>
<text x="383.1" y="799" font-size="11" font-weight="bold" text-anchor="middle" fill="#000">-0.5</text>
<line x1="420.2" y1="781.5" x2="420.2" y2="785.5" stroke="#000" stroke-width="1.7"/>
<text x="420.2" y="799" font-size="11" font-weight="bold" text-anchor="middle" fill="#000">0.0</text>
<line x1="457.3" y1="781.5" x2="457.3" y2="785.5" stroke="#000" stroke-width="1.7"/>
<text x="457.3" y="799" font-size="11" font-weight="bold" text-anchor="middle" fill="#000">0.5</text>
<line x1="494.4" y1="781.5" x2="494.4" y2="785.5" stroke="#000" stroke-width="1.7"/>
<text x="494.4" y="799" font-size="11" font-weight="bold" text-anchor="middle" fill="#000">1.0</text>
<line x1="531.5" y1="781.5" x2="531.5" y2="785.5" stroke="#000" stroke-width="1.7"/>
<text x="531.5" y="799" font-size="11" font-weight="bold" text-anchor="middle" fill="#000">1.5</text>
<text x="383.3" y="817" font-size="13.5" font-weight="bold">lg<tspan dx="1">C</tspan><tspan font-size="7.5" dy="2">BAY117085(μM)</tspan></text>
<text transform="translate(391 707.3) rotate(-90)" x="0" y="0" font-size="10" font-weight="bold" text-anchor="middle" fill="#000" textLength="95" lengthAdjust="spacingAndGlyphs">The inhibition ratio(%)</text>
<path d="M346 762.3 L348.84 762.07 L351.69 761.82 L354.53 761.54 L357.38 761.23 L360.22 760.9 L363.07 760.53 L365.91 760.14 L368.75 759.7 L371.6 759.23 L374.44 758.71 L377.29 758.15 L380.13 757.54 L382.98 756.87 L385.82 756.15 L388.66 755.37 L391.51 754.53 L394.35 753.62 L397.2 752.64 L400.04 751.58 L402.89 750.45 L405.73 749.24 L408.58 747.95 L411.42 746.58 L414.26 745.12 L417.11 743.57 L419.95 741.94 L422.8 740.23 L425.64 738.43 L428.49 736.55 L431.33 734.6 L434.17 732.58 L437.02 730.5 L439.86 728.36 L442.71 726.17 L445.55 723.94 L448.4 721.68 L451.24 719.4 L454.08 717.12 L456.93 714.83 L459.77 712.56 L462.62 710.31 L465.46 708.1 L468.31 705.92 L471.15 703.8 L474 701.74 L476.84 699.74 L479.68 697.82 L482.53 695.97 L485.37 694.2 L488.22 692.51 L491.06 690.91 L493.91 689.4 L496.75 687.97 L499.59 686.62 L502.44 685.36 L505.28 684.18 L508.13 683.07 L510.97 682.04 L513.82 681.09 L516.66 680.2" fill="none" stroke="#000" stroke-width="1.5"/>
<rect x="417.4" y="742.2" width="5.4" height="7.8" fill="#000"/>
<circle cx="346" cy="760" r="2.9" fill="#000"/>
<circle cx="494.4" cy="684.6" r="2.9" fill="#000"/>
<circle cx="516.73" cy="685.1" r="2.9" fill="#000"/>
</svg></body></html>
